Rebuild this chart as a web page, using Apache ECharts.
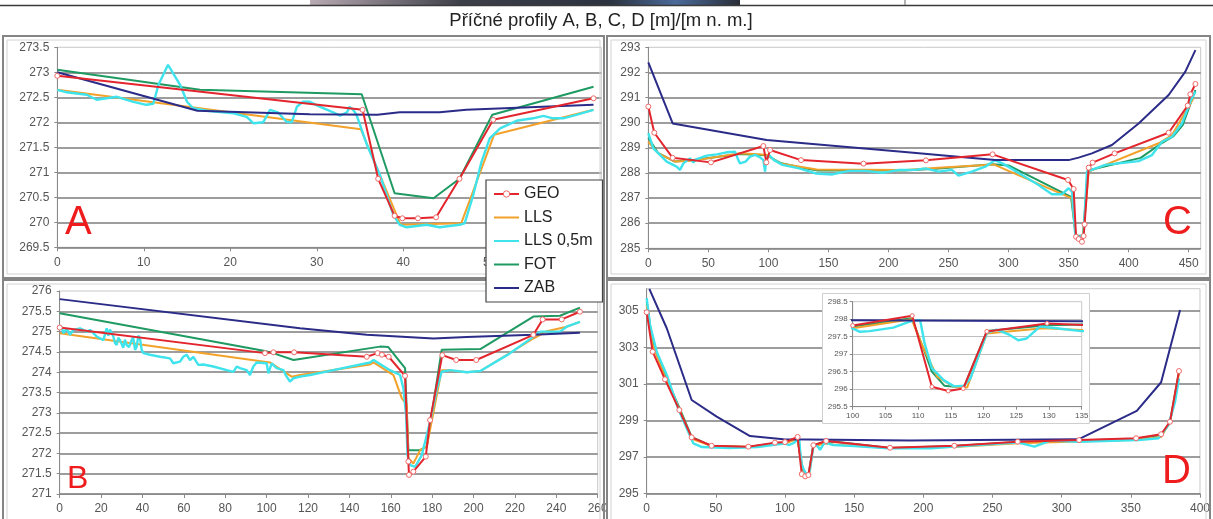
<!DOCTYPE html>
<html><head><meta charset="utf-8">
<script src="https://cdn.jsdelivr.net/npm/echarts@6/dist/echarts.min.js"></script>
<style>html,body{margin:0;padding:0;background:#fff}#c{width:1213px;height:519px}</style>
</head><body><div id="c"></div>
<script>
// ---------- data (x in m, y in m n. m.) ----------
const seriesNames = ['GEO', 'LLS', 'LLS 0,5m', 'FOT', 'ZAB'];
const panelLetters = ['A', 'B', 'C', 'D'];

// Panel A
const A_GEO = [[0,272.93],[35.3,272.25],[37.1,270.87],[39.0,270.13],[39.9,270.08],[41.7,270.08],[43.8,270.1],[46.5,270.87],[50.4,272.05],[62.0,272.48]];
const A_LLS = [[0,272.65],[35.1,271.86],[39.7,269.95],[46.7,269.98],[50.5,271.75],[62.0,272.25]];
const A_LLS05 = [[0,272.65],[1.1,272.6],[3.4,272.55],[4.55,272.45],[5.7,272.48],[6.9,272.51],[8.8,272.41],[10.3,272.35],[11.1,272.37],[11.7,272.75],[12.8,273.15],[14.2,272.75],[15.0,272.41],[15.7,272.28],[17.3,272.23],[20.4,272.18],[21.9,272.11],[22.7,271.98],[23.8,272.0],[24.6,272.25],[25.5,272.2],[26.5,272.01],[27.1,272.0],[27.7,272.31],[28.4,272.41],[29.2,272.41],[30.4,272.31],[31.9,272.2],[32.7,272.13],[33.5,272.2],[33.8,272.31],[34.2,272.25],[34.6,272.15],[35.8,271.55],[37.3,270.95],[38.85,270.15],[39.6,269.95],[40.4,269.9],[42.7,269.95],[44.2,269.9],[46.5,269.95],[47.1,269.98],[48.1,270.55],[49.05,271.21],[50.0,271.68],[51.2,271.88],[53.1,272.03],[55.0,272.08],[56.2,272.13],[57.3,272.08],[58.5,272.08],[60.0,272.15],[62.0,272.25]];
const A_FOT = [[0,273.05],[16.5,272.65],[35.2,272.56],[39.0,270.58],[43.5,270.48],[46.5,270.87],[50.3,272.15],[62.0,272.71]];
const A_ZAB = [[0,273.0],[16.2,272.23],[29.2,272.16],[37.0,272.15],[39.6,272.2],[44.2,272.2],[47.3,272.25],[62.0,272.35]];

// Panel B
const B_GEO = [[0,275.10],[99.2,274.47],[103.3,274.49],[113.3,274.49],[148.4,274.38],[153.6,274.47],[155.7,274.43],[159,274.38],[166.9,273.91],[168.5,271.80],[168.8,271.47],[170.9,271.55],[176.9,271.92],[179,272.82],[184.9,274.42],[191.6,274.30],[201.3,274.30],[228.9,274.92],[233.4,275.30],[242.6,275.30],[251.4,275.49]];
const B_LLS = [[0,274.96],[101.6,274.24],[112.1,273.89],[116.1,273.93],[150,274.19],[151.7,274.24],[161.3,273.93],[165.3,273.36],[167.7,273.2],[168.5,271.88],[170.9,271.75],[174.2,272.08],[177.4,272.17],[184.6,274.05],[187.9,274.05],[196.7,274.0],[203.3,274.03],[228.9,274.83],[235.4,275.01],[245,275.12],[251.4,275.24]];
const B_LLS05 = [[0,275.07],[0.95,275.12],[1.76,274.96],[3.37,275.08],[4.98,274.92],[6.59,275.04],[9.81,275.08],[13.03,275.0],[14.64,275.04],[17.87,274.88],[21.09,274.79],[22.7,275.08],[23.5,274.9],[24.3,275.05],[25.92,274.88],[26.7,274.72],[27.53,274.67],[28.3,274.85],[29.14,274.79],[30.7,274.6],[31.5,274.8],[32.36,274.67],[33.5,274.62],[34.78,274.79],[35.5,274.86],[36.4,274.55],[37.2,274.63],[38.0,274.9],[38.81,274.83],[39.61,274.55],[40.42,274.47],[43.64,274.43],[48.47,274.38],[53.3,274.34],[54.91,274.22],[58.13,274.26],[59.74,274.38],[61.35,274.43],[62.96,274.30],[64.57,274.38],[66.99,274.18],[69.41,274.19],[74.24,274.14],[80.69,274.05],[83.91,274.01],[85.52,274.14],[87.13,274.10],[90.35,274.05],[91.96,273.93],[93.57,274.14],[95.18,274.24],[100.02,274.22],[100.82,273.97],[102.43,274.22],[104.85,274.10],[108.07,274.05],[109.68,273.89],[111.29,273.77],[112.9,273.85],[116.12,273.89],[120.96,273.93],[132.2,274.05],[150,274.24],[151.7,274.30],[159.6,274.05],[164.5,273.93],[166.1,273.60],[167.4,272.95],[168.1,271.96],[169.4,271.71],[171.8,271.67],[175,271.96],[179,272.78],[182.3,273.60],[184.6,274.01],[188.7,274.05],[196.7,274.0],[203.3,274.03],[216.2,274.42],[228.9,274.87],[232.2,275.0],[241.8,275.0],[245,275.12],[251.4,275.24]];
const B_FOT = [[0,275.45],[99.2,274.52],[104.9,274.44],[113,274.30],[154.8,274.63],[158.8,274.62],[166.9,274.10],[168.5,272.08],[174.2,272.08],[177.4,272.17],[184.6,274.55],[203.3,274.57],[228.9,275.37],[241.8,275.39],[251.4,275.59]];
const B_ZAB = [[0,275.80],[116.1,275.08],[148.4,274.92],[167.7,274.87],[180.6,274.83],[196.7,274.87],[228.9,274.92],[251.4,274.97]];

// Panel C
const C_GEO = [[0,290.64],[5,289.6],[20.3,288.6],[52.2,288.42],[95.8,289.07],[98.3,288.42],[101.4,288.91],[127.2,288.51],[179.2,288.37],[231.2,288.5],[286.7,288.74],[349.5,287.72],[354.2,287.36],[356.2,285.46],[358.4,285.37],[361.1,285.26],[362.5,285.49],[363.3,285.95],[366.7,288.21],[370,288.41],[388.3,288.78],[433.3,289.6],[449.2,290.68],[451.4,291.13],[455.6,291.54]];
const C_LLS = [[0,289.24],[8.3,288.78],[22.5,288.45],[36.4,288.48],[76.4,288.78],[98.6,288.72],[109.7,288.38],[126.4,288.25],[140.3,288.14],[214,288.12],[241.7,288.21],[287.5,288.34],[352.8,286.99],[356,285.45],[362,285.45],[366.7,288.05],[425,289.18],[436.1,289.51],[454,290.97]];
const C_LLS05 = [[0,289.58],[4.2,288.98],[15.3,288.45],[23.6,288.25],[26.4,288.12],[29.2,288.38],[34.7,288.58],[37.5,288.42],[40.3,288.55],[48.6,288.69],[57,288.74],[65.3,288.82],[72.2,288.84],[75,288.51],[76.4,288.38],[81,288.45],[84.7,288.65],[88.9,288.72],[93.1,288.62],[95.8,288.51],[97.2,288.05],[98.3,288.58],[100.6,288.71],[104.7,288.51],[111.7,288.32],[125.6,288.18],[139.4,287.98],[153.3,287.94],[167.2,288.08],[181.1,288.08],[195,288.0],[208.9,288.12],[222.2,288.12],[230.6,288.18],[241.7,288.05],[252.8,288.12],[258.3,287.89],[269.4,288.05],[280.6,288.25],[288.9,288.51],[297.2,288.32],[311.1,287.92],[325,287.52],[336.1,287.15],[344.4,287.15],[350,287.39],[352.8,287.25],[355.6,285.53],[358.3,285.45],[362.5,285.53],[365.3,288.05],[380.6,288.32],[408.3,288.47],[419.4,288.71],[427.8,289.24],[436.1,289.44],[444.4,289.97],[451.4,290.84],[455.6,291.23]];
const C_FOT = [[0,289.4],[8,288.8],[22,288.45],[36,288.5],[76,288.75],[98.6,288.7],[110,288.4],[127,288.22],[141,288.1],[214,288.1],[242,288.18],[287,288.35],[300,288.3],[352,287.05],[356,285.5],[362,285.5],[366,288.1],[410,288.6],[428,289.2],[437,289.45],[445,289.9],[455.6,291.3]];
const C_ZAB = [[0,292.4],[20.3,289.97],[98.6,289.31],[216,288.82],[255.6,288.65],[288.9,288.51],[350,288.51],[358.3,288.61],[369.4,288.78],[386.1,289.11],[408.3,289.97],[433.3,291.1],[447.2,292.03],[455.6,292.89]];

// Panel D
const D_GEO = [[0,304.91],[4.3,302.76],[13.2,301.25],[23.6,299.57],[32.5,298.08],[46.9,297.62],[73.5,297.57],[92.7,297.79],[100,297.82],[109.1,298.1],[112.1,296.07],[114.6,295.95],[116.9,296.02],[120.5,297.65],[129.7,297.88],[175.9,297.51],[222.4,297.62],[268.2,297.84],[312.6,297.93],[353.8,298.03],[371.9,298.25],[378.3,298.93],[384.8,301.7]];
const D_LLS = [[0,305.3],[4,303.2],[13,301.4],[23.6,299.6],[32.5,298.0],[46.9,297.6],[73.5,297.55],[92.7,297.72],[100,297.74],[109,298.0],[110.5,297.3],[112.9,296.36],[115.4,296.07],[117.5,296.05],[120.5,297.59],[129.1,297.74],[135,297.69],[175.9,297.5],[222.4,297.55],[268.2,297.75],[312.6,297.85],[353.8,297.95],[371.9,298.1],[378.3,298.9],[384.8,301.6]];
const D_LLS05 = [[0,305.68],[2.4,304.22],[7.2,302.76],[14.5,301.49],[23,299.6],[33.7,297.75],[40,297.55],[60,297.5],[80,297.55],[95,297.7],[100,297.74],[101.1,297.64],[102.6,297.66],[106.2,297.76],[108.7,297.93],[110.3,297.98],[111,297.3],[112.1,296.6],[113.9,296.26],[115.5,296.08],[117,296.1],[118,296.31],[120.5,297.61],[122,297.7],[124,297.55],[125.3,297.4],[126.6,297.45],[128.6,297.79],[131.1,297.74],[135,297.66],[150,297.6],[175,297.48],[186.8,297.48],[206,297.48],[222.4,297.57],[258.7,297.75],[268.2,297.8],[280.3,297.57],[291.8,297.9],[312.1,297.84],[355.5,297.93],[370,298.03],[377.2,298.75],[382,300.03],[384.8,301.3]];
const D_FOT = [[0,305.5],[4,303.4],[13,301.5],[23.6,299.7],[32.5,298.1],[46.9,297.6],[73.5,297.55],[92.7,297.75],[100,297.79],[109,298.03],[111,297.07],[112.1,296.5],[114,296.1],[117,296.05],[120.5,297.66],[129.7,297.83],[135,297.85],[175.9,297.5],[222.4,297.6],[268.2,297.82],[312.6,297.9],[353.8,298.0],[371.9,298.2],[378.3,298.9],[384.8,301.65]];
const D_ZAB = [[1.9,306.19],[14.5,304.04],[32.5,300.12],[50.6,299.21],[74.7,298.15],[98.8,297.97],[190,297.9],[312.1,297.97],[354.3,299.52],[371.9,301.09],[385.6,305.04]];

// ---------- styling ----------
const FONT = '"Liberation Sans", Arial, sans-serif';
const colors = {'GEO':'#e3262e','LLS':'#f2a22a','LLS 0,5m':'#3fe3ec','FOT':'#1f9a62','ZAB':'#2b2b88'};
const zOrder = {'FOT':2,'LLS':3,'LLS 0,5m':4,'ZAB':5,'GEO':6};

function line(name, data, gi, zBase) {
  const isGeo = name === 'GEO';
  return {
    name, type:'line', xAxisIndex:gi, yAxisIndex:gi, data,
    symbol: isGeo ? 'circle' : 'none', showSymbol: isGeo, symbolSize: gi === 4 ? 4 : 5,
    lineStyle:{color:colors[name], width: name === 'LLS 0,5m' ? 2.4 : 2},
    itemStyle: isGeo ? {color:'#fff', borderColor:'#f06868', borderWidth:1} : {color:colors[name]},
    z: zBase + zOrder[name], silent:true, animation:false, emphasis:{disabled:true}
  };
}
const lbl = {color:'#555', fontFamily:FONT};
function xAx(gi, min, max, interval, showMax, small) {
  return {type:'value', gridIndex:gi, min, max, interval, z: small ? 5 : 0,
    axisLine:{show:true, onZero:false, lineStyle:{color:'#8a8a8a', width:1}},
    axisTick:{show:true, length: small ? 3 : 4, lineStyle:{color:'#8a8a8a'}},
    axisLabel:Object.assign({fontSize: small ? 8 : 12, margin: small ? 5 : 9, showMaxLabel:showMax, showMinLabel:true}, lbl),
    splitLine:{show:false}};
}
function yAx(gi, min, max, interval, showMax, small) {
  return {type:'value', gridIndex:gi, min, max, interval, z: small ? 5 : 0,
    axisLine:{show:true, lineStyle:{color:'#8a8a8a', width:1}},
    axisTick:{show:true, length:3, lineStyle:{color:'#8a8a8a'}},
    axisLabel:Object.assign({fontSize: small ? 8 : 12, margin: small ? 5 : 8, showMaxLabel:showMax, showMinLabel:true}, lbl),
    splitLine:{show:true, showMaxLine:false, lineStyle:{color: small ? '#bdbdbd' : '#7c7c7c', width: small ? 1 : 1.5}}};
}
const gridStyle = {show:true, borderColor:'#c8c8c8', borderWidth:1, backgroundColor:'transparent', containLabel:false};

const grids = [
  Object.assign({left:57.3, top:47.3, width:544, height:200}, gridStyle),   // A
  Object.assign({left:648.3, top:47.3, width:552.4, height:201}, gridStyle), // C
  Object.assign({left:59.7, top:291, width:538, height:203}, gridStyle),    // B
  Object.assign({left:646.7, top:288.7, width:553.3, height:205}, gridStyle), // D
  Object.assign({left:852.7, top:301.7, width:229, height:105, z:4}, gridStyle, {backgroundColor:'#fff'}) // D inset
];
const xAxes = [xAx(0,0,62.9,10,false), xAx(1,0,460,50,false), xAx(2,0,260,20,true), xAx(3,0,400,50,true), xAx(4,100,135,5,true,true)];
const yAxes = [yAx(0,269.5,273.5,0.5,true), yAx(1,285,293,1,true), yAx(2,271,276,0.5,true), yAx(3,295,306.2,2,false), yAx(4,295.5,298.5,0.5,true,true)];

const panels = [
  [A_GEO,A_LLS,A_LLS05,A_FOT,A_ZAB],
  [C_GEO,C_LLS,C_LLS05,C_FOT,C_ZAB],
  [B_GEO,B_LLS,B_LLS05,B_FOT,B_ZAB],
  [D_GEO,D_LLS,D_LLS05,D_FOT,D_ZAB],
  [D_GEO,D_LLS,D_LLS05,D_FOT,D_ZAB]
];
const series = [];
panels.forEach((arrs, gi) => {
  arrs.forEach((d, k) => series.push(line(seriesNames[k], d, gi, gi === 4 ? 6 : 0)));
});

function frame(x, y, w, h) {
  return [
    {type:'rect', z:1, shape:{x, y, width:w, height:h}, style:{fill:null, stroke:'#858585', lineWidth:2}},
    {type:'rect', z:1, shape:{x:x+4, y:y+4, width:w-8, height:h-8}, style:{fill:null, stroke:'#d2d2d2', lineWidth:1}}
  ];
}
function letter(t, x, y, size) {
  return {type:'text', z:3, style:{text:t, x, y, font:size + 'px ' + FONT, fill:'#ee1c1c', textAlign:'left', textVerticalAlign:'middle'}};
}
const graphics = [].concat(
  [{type:'rect', z:1, shape:{x:310, y:0, width:430, height:5},
    style:{fill:new echarts.graphic.LinearGradient(0,0,1,0,[{offset:0,color:'#b9aab3'},{offset:0.35,color:'#3d3f48'},{offset:0.7,color:'#2c3340'},{offset:0.85,color:'#4a6a9a'},{offset:1,color:'#2a2e38'}])}},
   {type:'line', z:1, shape:{x1:0, y1:5.5, x2:1213, y2:5.5}, style:{stroke:'#3a3a3a', lineWidth:1.5}},
   {type:'line', z:1, shape:{x1:905, y1:0, x2:905, y2:5}, style:{stroke:'#666', lineWidth:1}},
   {type:'text', z:3, style:{text:'Příčné profily A, B, C, D [m]/[m n. m.]', x:601, y:21, font:'18.5px ' + FONT, fill:'#222', textAlign:'center', textVerticalAlign:'middle'}}],
  frame(3, 36, 601, 242), frame(607, 36, 603, 242), frame(3, 280, 601, 244), frame(607, 280, 603, 244),
  [letter(panelLetters[0], 65, 223, 40), letter(panelLetters[1], 67, 479, 32), letter(panelLetters[2], 1163, 222.5, 40), letter(panelLetters[3], 1162, 471.5, 40),
   {type:'rect', z:1, shape:{x:822.5, y:293.5, width:267, height:130}, style:{fill:'#fff', stroke:'#cfcfcf', lineWidth:1}}]
);

const legendData = seriesNames.map(n => n === 'GEO'
  ? {name:n, itemStyle:{color:'#fff', borderColor:'#f06868', borderWidth:1}}
  : {name:n, itemStyle:{opacity:0}});

const chart = echarts.init(document.getElementById('c'), null, {renderer:'canvas'});
chart.setOption({
  animation:false,
  backgroundColor:'#fff',
  textStyle:{fontFamily:FONT},
  grid:grids, xAxis:xAxes, yAxis:yAxes, series,
  legend:{orient:'vertical', left:486, top:180, data:legendData, itemWidth:25, itemHeight:8, itemGap:7.5,
    padding:[6,10,6,7], backgroundColor:'#fff', borderColor:'#444', borderWidth:1.2, selectedMode:false, z:20,
    textStyle:{fontSize:16, lineHeight:16, color:'#222', fontFamily:FONT}},
  graphic:graphics
});
</script></body></html>
